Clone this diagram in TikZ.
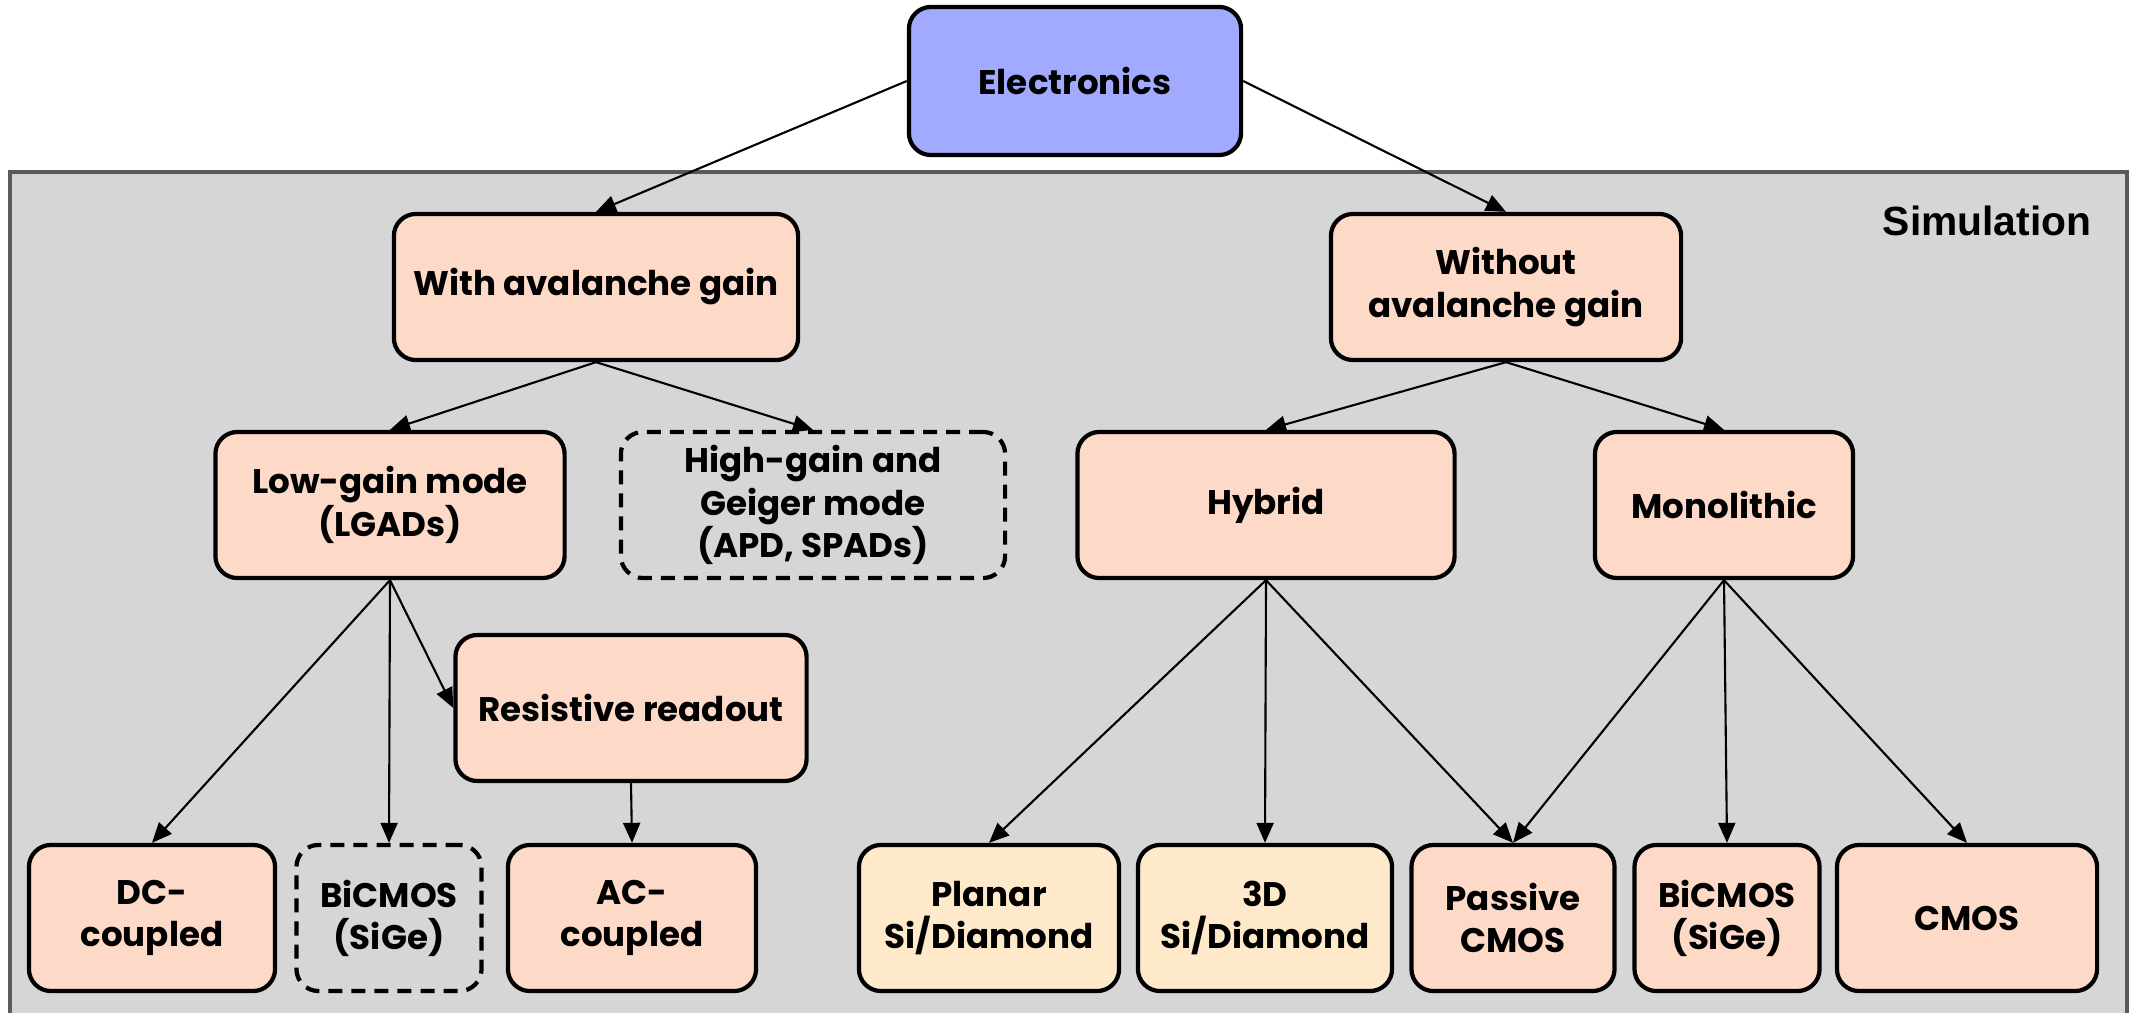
\documentclass[tikz,border=0pt]{standalone}
\usepackage{fontspec}
\setmainfont{Poppins}
\newfontfamily\simfont{Liberation Sans}
\usetikzlibrary{arrows.meta}

\definecolor{elecblue}{HTML}{A1AAFE}
\definecolor{peach}{HTML}{FDD9C8}
\definecolor{cream}{HTML}{FEE9CA}
\definecolor{simgray}{HTML}{D6D6D6}
\definecolor{framegray}{HTML}{5A5A5A}

\begin{document}
\begin{tikzpicture}[x=0.01cm, y=-0.01cm,
    box/.style={draw, line width=1.2pt, rounded corners=0.22cm, align=center,
        minimum height=1.46cm, inner sep=2pt,
        font=\bfseries\fontsize{9.7}{12}\selectfont},
    solidbox/.style={box, fill=peach},
    dashbox/.style={box, dash pattern=on 0.14cm off 0.09cm},
    arr/.style={-{Triangle[length=0.2cm, width=0.17cm]}, line width=0.6pt}]

    % Fix the page size
    \useasboundingbox (0, 0) rectangle (2131, 1013);

    % Grey simulation area (bottom edge runs off the page)
    \fill[simgray] (10, 172) rectangle (2127, 1030);
    \draw[framegray, line width=1.1pt] (10, 1030) -- (10, 172) -- (2127, 172) -- (2127, 1030);
    \node[font=\simfont\bfseries\fontsize{11.6}{13}\selectfont, inner sep=0pt, anchor=base east] (sim) at (2092, 236) {Simulation};

    % Top level
    \node[box, fill=elecblue, minimum width=3.32cm, minimum height=1.48cm] (elec) at (1075, 81) {Electronics};

    % Second level
    \node[solidbox, minimum width=4.04cm] (with) at (596, 287) {With avalanche gain};
    \node[solidbox, minimum width=3.50cm] (without) at (1506, 287) {Without\\avalanche gain};

    % Third level
    \node[solidbox, minimum width=3.49cm] (lowgain) at (390, 505) {Low-gain mode\\(LGADs)};
    \node[dashbox, minimum width=3.84cm] (highgain) at (813, 505) {High-gain and\\Geiger mode\\(APD, SPADs)};
    \node[solidbox, minimum width=3.77cm] (hybrid) at (1266, 505) {Hybrid};
    \node[solidbox, minimum width=2.58cm] (mono) at (1724, 505) {Monolithic};
    \node[solidbox, minimum width=3.51cm] (resist) at (631, 708) {Resistive readout};

    % Bottom row
    \node[solidbox, minimum width=2.46cm] (dc) at (152, 918) {DC-\\coupled};
    \node[dashbox, minimum width=1.85cm] (bicmosA) at (389, 918) {BiCMOS\\(SiGe)};
    \node[solidbox, minimum width=2.48cm] (ac) at (632, 918) {AC-\\coupled};
    \node[box, fill=cream, minimum width=2.60cm] (planar) at (989, 918) {Planar\\Si/Diamond};
    \node[box, fill=cream, minimum width=2.54cm] (threed) at (1265, 918) {3D\\Si/Diamond};
    \node[solidbox, minimum width=2.03cm] (passive) at (1513, 918) {Passive\\CMOS};
    \node[solidbox, minimum width=1.85cm] (bicmosB) at (1727, 918) {BiCMOS\\(SiGe)};
    \node[solidbox, minimum width=2.60cm] (cmos) at (1967, 918) {CMOS};

    % Connectors
    \draw[arr] (elec.west) -- (with.north);
    \draw[arr] (elec.east) -- (without.north);
    \draw[arr] (with.south) -- (lowgain.north);
    \draw[arr] (with.south) -- (highgain.north);
    \draw[arr] (without.south) -- (hybrid.north);
    \draw[arr] (without.south) -- (mono.north);

    % Low-gain branch
    \draw[arr] (lowgain.south) -- (dc.north);
    \draw[arr] (lowgain.south) -- (bicmosA.north);
    \draw[arr] (lowgain.south) -- (resist.west);
    \draw[arr] (resist.south) -- (ac.north);

    % Hybrid and monolithic branches
    \draw[arr] (hybrid.south) -- (planar.north);
    \draw[arr] (hybrid.south) -- (threed.north);
    \draw[arr] (hybrid.south) -- (passive.north);
    \draw[arr] (mono.south) -- (passive.north);
    \draw[arr] (mono.south) -- (bicmosB.north);
    \draw[arr] (mono.south) -- (cmos.north);

\end{tikzpicture}
\end{document}
